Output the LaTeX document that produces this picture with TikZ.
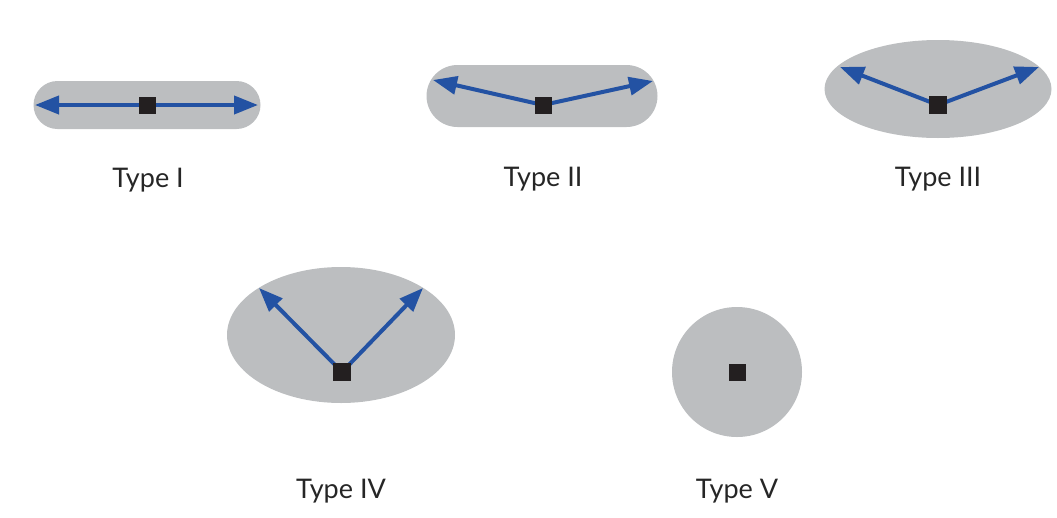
\documentclass[tikz,border=0pt]{standalone}
\usepackage{fontspec}
\setmainfont{Lato}
\usetikzlibrary{arrows.meta,shapes.misc,shapes.geometric}
\definecolor{blobgray}{HTML}{BCBEC0}
\definecolor{arrblue}{HTML}{2352A3}
\definecolor{sqblack}{HTML}{231F20}
\tikzset{
  blob/.style={fill=blobgray, draw=none, inner sep=0pt},
  pill/.style={blob, rounded rectangle},
  oval/.style={blob, ellipse},
  center/.style={fill=sqblack, draw=none, minimum size=17pt, inner sep=0pt},
  vec/.style={draw=arrblue, line width=4pt, -{Triangle[length=24pt,width=18pt]}},
  dvec/.style={draw=arrblue, line width=4pt, {Triangle[length=24pt,width=18pt]}-{Triangle[length=24pt,width=18pt]}},
  lbl/.style={font=\fontsize{27}{32}\selectfont, text=black!85, inner sep=0pt}
}
\begin{document}
\begin{tikzpicture}[x=1pt,y=-1pt]
\useasboundingbox (0,0) rectangle (1057,517);
% Type I
\node[pill, minimum width=227pt, minimum height=48pt] (b1) at (147,105) {};
\coordinate (l1) at (35,105);
\coordinate (r1) at (258,105);
\draw[dvec] (l1) -- (r1);
\node[center] (c1) at (147,105) {};
\node[lbl] (t1) at (148,180) {Type I};
% Type II
\node[pill, minimum width=231pt, minimum height=62pt] (b2) at (542,96) {};
\node[center] (c2) at (543,105) {};
\coordinate (l2) at (433,80);
\coordinate (r2) at (653,81);
\draw[vec] (c2.center) -- (l2);
\draw[vec] (c2.center) -- (r2);
\node[center] at (543,105) {};
\node[lbl] (t2) at (543,179) {Type II};
% Type III
\node[oval, minimum width=227pt, minimum height=98pt] (b3) at (938,89) {};
\node[center, minimum size=18pt] (c3) at (938,105) {};
\coordinate (l3) at (840,67);
\coordinate (r3) at (1039,67);
\draw[vec] (c3.center) -- (l3);
\draw[vec] (c3.center) -- (r3);
\node[center, minimum size=18pt] at (938,105) {};
\node[lbl] (t3) at (938,179) {Type III};
% Type IV
\node[oval, minimum width=228pt, minimum height=136pt] (b4) at (341,335) {};
\node[center, minimum size=18pt] (c4) at (342,372) {};
\coordinate (l4) at (259,288);
\coordinate (r4) at (423,288);
\draw[vec] (c4.center) -- (l4);
\draw[vec] (c4.center) -- (r4);
\node[center, minimum size=18pt] at (342,372) {};
\node[lbl] (t4) at (341,491) {Type IV};
% Type V
\node[blob, circle, minimum size=130pt] (b5) at (737,372) {};
\node[center] (c5) at (737,372) {};
\node[lbl] (t5) at (737,491) {Type V};
\end{tikzpicture}
\end{document}
